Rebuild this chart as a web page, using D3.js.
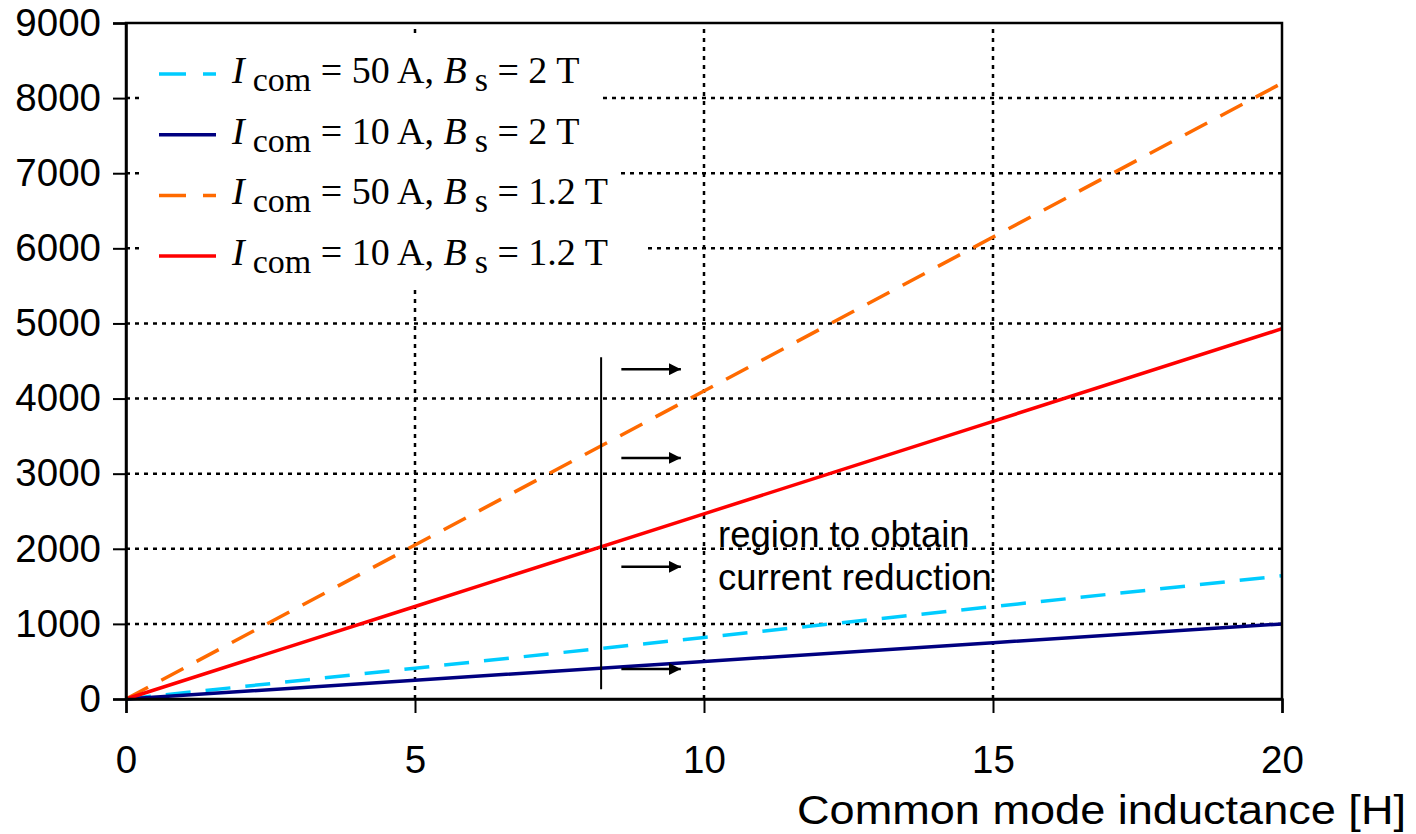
<!DOCTYPE html>
<html>
<head>
<meta charset="utf-8">
<script src="https://cdn.jsdelivr.net/npm/d3@7"></script>
<style>
  body { margin: 0; background: #fff; }
  svg { display: block; }
</style>
</head>
<body>
<svg id="chart" width="1416" height="834"></svg>
<script>
// Values
const inductance = [0, 5, 10, 15, 20]
const cur50B2 = [0, 410, 820, 1230, 1640]
const cur10B2 = [0, 250, 500, 750, 1000]
const cur50B12 = [0, 2050, 4100, 6150, 8200]
const cur10B12 = [0, 1232, 2465, 3697, 4930]

const xTicks = [0, 5, 10, 15, 20]
const yTicks = [0, 1000, 2000, 3000, 4000, 5000, 6000, 7000, 8000, 9000]

// Legend pieces
const legendCurrent = ["50 A", "10 A", "50 A", "10 A"]
const legendField = ["2 T", "2 T", "1.2 T", "1.2 T"]

// Annotation (in data units)
const markerX = 8.22
const markerSpan = [130, 4550]
const arrowLevels = [4390, 3210, 1760, 400]
const arrowSpan = [8.57, 9.6]
const noteLines = ["region to obtain", "current reduction"]

const series = [
    { values: cur50B2, color: "#00ccff", dash: "25,15" },
    { values: cur10B2, color: "#000080", dash: null },
    { values: cur50B12, color: "#ff6a00", dash: "25,15" },
    { values: cur10B12, color: "#ff0000", dash: null },
]

const svg = d3.select("#chart")
const margin = { left: 126, right: 134, top: 23, bottom: 135 }
const W = +svg.attr("width"), H = +svg.attr("height")

const x = d3.scaleLinear().domain([0, 20]).range([margin.left, W - margin.right])
const y = d3.scaleLinear().domain([0, 9000]).range([H - margin.bottom, margin.top])

svg.append("rect").attr("width", W).attr("height", H).attr("fill", "#fff")

// Grid
const grid = svg.append("g").attr("stroke", "#000").attr("stroke-width", 2.5).attr("stroke-dasharray", "4,5")
grid.selectAll(".gx")
    .data(xTicks.slice(1, -1))
    .enter().append("line")
    .attr("x1", d => x(d)).attr("x2", d => x(d))
    .attr("y1", y(0)).attr("y2", y(9000))
grid.selectAll(".gy")
    .data(yTicks.slice(1, -1))
    .enter().append("line")
    .attr("x1", x(0)).attr("x2", x(20))
    .attr("y1", d => y(d)).attr("y2", d => y(d))

// Legend background hides the grid
svg.append("path")
    .attr("fill", "#fff")
    .attr("d", "M140,38 H598 V110 H620 V185 H645 V285 H140 Z")

// Series
const line = d3.line()
    .x((d, i) => x(inductance[i]))
    .y(d => y(d))

svg.append("g").selectAll("path")
    .data(series)
    .enter().append("path")
    .attr("d", d => line(d.values))
    .attr("fill", "none")
    .attr("stroke", d => d.color)
    .attr("stroke-width", 3.5)
    .attr("stroke-dasharray", d => d.dash)

// Frame
svg.append("rect")
    .attr("x", x(0)).attr("y", y(9000))
    .attr("width", x(20) - x(0)).attr("height", y(0) - y(9000))
    .attr("fill", "none").attr("stroke", "#000").attr("stroke-width", 2.5)

// Axes
const axisFont = "'Liberation Sans', Arial, sans-serif"
const yAxis = svg.append("g")
    .attr("transform", `translate(${x(0)},0)`)
    .call(d3.axisLeft(y).tickValues(yTicks).tickFormat(d3.format("d")).tickSize(13).tickPadding(12))
const xAxis = svg.append("g")
    .attr("transform", `translate(0,${y(0)})`)
    .call(d3.axisBottom(x).tickValues(xTicks).tickSize(14).tickPadding(33))
for (const g of [yAxis, xAxis]) {
    g.select(".domain").attr("stroke-width", 2.5)
    g.selectAll(".tick line").attr("stroke-width", 2)
    g.selectAll("text").attr("font-family", axisFont).attr("font-size", 38.5).attr("fill", "#000")
}

svg.append("text")
    .attr("x", 1406).attr("y", 824)
    .attr("text-anchor", "end")
    .attr("font-family", axisFont)
    .attr("font-size", 40)
    .attr("textLength", 609)
    .attr("lengthAdjust", "spacingAndGlyphs")
    .text("Common mode inductance [H]")

// Legend
const legend = svg.append("g")
const rowY = i => 74 + i * 60.7
legend.selectAll("line")
    .data(series)
    .enter().append("line")
    .attr("x1", 159).attr("x2", 216)
    .attr("y1", (d, i) => rowY(i)).attr("y2", (d, i) => rowY(i))
    .attr("stroke", d => d.color)
    .attr("stroke-width", 3.5)
    .attr("stroke-dasharray", d => d.dash ? "27,17" : null)

legendCurrent.forEach((c, i) => {
    const t = legend.append("text")
        .attr("x", 232).attr("y", rowY(i) + 9)
        .attr("font-family", "'Liberation Serif', 'Times New Roman', serif")
        .attr("font-size", 38)
        .attr("fill", "#000")
    t.append("tspan").attr("font-style", "italic").text("I")
    t.append("tspan").attr("font-size", 34).attr("dx", 8).attr("dy", 8).text("com")
    t.append("tspan").attr("dy", -8).text(` = ${c}, `)
    t.append("tspan").attr("font-style", "italic").text("B")
    t.append("tspan").attr("font-size", 34).attr("dx", 8).attr("dy", 8).text("s")
    t.append("tspan").attr("dy", -8).text(` = ${legendField[i]}`)
})

// Annotation: marker line, arrows and note
svg.append("defs").append("marker")
    .attr("id", "arrow")
    .attr("viewBox", "0 0 10 10")
    .attr("refX", 10).attr("refY", 5)
    .attr("markerWidth", 12).attr("markerHeight", 12)
    .attr("markerUnits", "userSpaceOnUse")
    .attr("orient", "auto")
    .append("path").attr("d", "M0,0 L10,5 L0,10 Z").attr("fill", "#000")

svg.append("line")
    .attr("x1", x(markerX)).attr("x2", x(markerX))
    .attr("y1", y(markerSpan[0])).attr("y2", y(markerSpan[1]))
    .attr("stroke", "#000").attr("stroke-width", 2)

svg.append("g").selectAll("line")
    .data(arrowLevels)
    .enter().append("line")
    .attr("x1", x(arrowSpan[0])).attr("x2", x(arrowSpan[1]))
    .attr("y1", d => y(d)).attr("y2", d => y(d))
    .attr("stroke", "#000").attr("stroke-width", 2.5)
    .attr("marker-end", "url(#arrow)")

svg.append("g").selectAll("text")
    .data(noteLines)
    .enter().append("text")
    .attr("x", 718).attr("y", (d, i) => 547 + i * 43)
    .attr("font-family", axisFont)
    .attr("font-size", 36.5)
    .attr("fill", "#000")
    .text(d => d)
</script>
</body>
</html>
